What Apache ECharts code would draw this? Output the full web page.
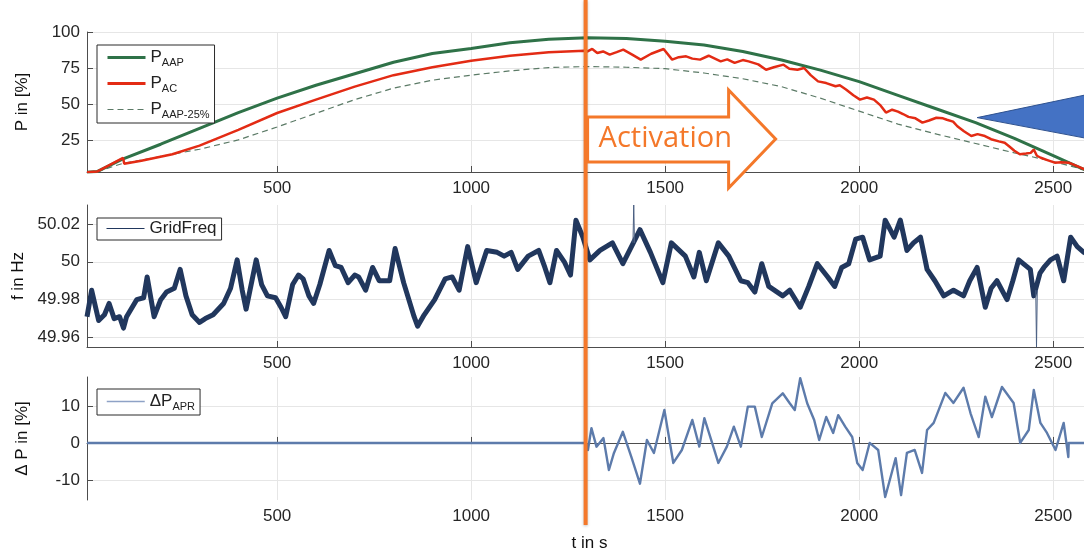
<!DOCTYPE html>
<html>
<head>
<meta charset="utf-8">
<script src="https://cdn.jsdelivr.net/npm/echarts@6/dist/echarts.min.js"></script>
<style>
html, body { margin: 0; padding: 0; background: #fff; }
#chart { width: 1084px; height: 550px; }
</style>
</head>
<body>
<div id="chart"></div>
<script>
// ---- data (t in s) ----
const powerTime = [10, 36, 100, 200, 300, 400, 500, 600, 700, 800, 900, 1000, 1100, 1200, 1300,
  1400, 1500, 1600, 1700, 1800, 1900, 2000, 2100, 2200, 2300, 2400, 2500, 2570, 2600]
const pAAP = [2.5, 3, 11.5, 22, 33, 44, 54, 63, 71, 79, 85, 88.5, 92.5, 95, 96,
  95.5, 93.5, 91, 86.5, 80.5, 73.5, 65.5, 56, 46.5, 37, 26, 14, 5.5, 2.5]
const pAAP25 = [2.5, 3, 8.5, 13.5, 18.5, 25, 34, 43.5, 53, 61, 66.5, 70, 73, 75.3, 76,
  75.5, 74.5, 71.5, 67.5, 62, 54, 45, 36, 29, 22.5, 16, 10, 5, 3]

const pACTime = [10, 36, 103, 106, 150, 230, 300, 400, 500, 600, 700, 800, 900, 1000, 1100, 1200, 1292,
  1300, 1312, 1325, 1340, 1357, 1375, 1392, 1415, 1437, 1464, 1496, 1518, 1535, 1554, 1570, 1590,
  1612, 1643, 1660, 1679, 1700, 1715, 1740, 1760, 1780, 1805, 1820, 1841, 1858, 1875, 1894, 1915,
  1939, 1950, 1966, 1985, 2002, 2020, 2038, 2055, 2069, 2085, 2100, 2113, 2127, 2145, 2163, 2180,
  2199, 2216, 2226, 2242, 2253, 2270, 2289, 2305, 2324, 2340, 2360, 2375, 2387, 2400, 2414, 2430,
  2442, 2450, 2458, 2468, 2485, 2504, 2520, 2540, 2560, 2582, 2600]
const pAC = [2.5, 3, 12.5, 8.5, 10.5, 15, 21, 32, 43.7, 53, 62, 70, 75.5, 80, 83.5, 86, 87,
  86.5, 88.2, 85.4, 86.5, 84.3, 86, 87.7, 84.3, 80.8, 84.9, 88.2, 80.8, 82.5, 83.1, 81.5, 80.8,
  83.5, 79.6, 81, 78.5, 80.5, 79.6, 77.5, 73.8, 75.5, 77.3, 74.5, 73.8, 75, 70, 65.7, 64.5,
  62.3, 63, 60, 56, 53, 54.5, 53, 49, 44, 46, 44.7, 43, 41, 40, 37, 38.5,
  40.4, 40, 39, 37.7, 34.5, 31, 27.7, 29, 27.7, 25.5, 24, 23, 20.4, 17.5, 15, 15.5,
  16, 18.3, 14, 12.6, 11, 9.2, 9.5, 9.2, 7, 4.4, 3]

const freqTime = [10, 22, 40, 55, 67, 80, 94, 104, 112, 138, 156, 165, 183, 200, 215, 235, 250, 265,
  281, 300, 315, 335, 362, 380, 397, 410, 420, 446, 460, 475, 496, 510, 522, 540, 555, 567, 582,
  594, 610, 634, 650, 665, 683, 700, 710, 728, 746, 763, 790, 804, 826, 853, 862, 879, 906, 933,
  951, 969, 991, 1013, 1040, 1067, 1085, 1103, 1120, 1147, 1174, 1190, 1203, 1220, 1240, 1256,
  1270, 1288, 1306, 1332, 1364, 1391, 1418, 1435, 1462, 1494, 1516, 1552, 1574, 1588, 1606, 1637,
  1664, 1695, 1713, 1731, 1749, 1767, 1803, 1821, 1848, 1870, 1892, 1919, 1937, 1955, 1973, 1991,
  2009, 2027, 2054, 2067, 2090, 2106, 2123, 2140, 2158, 2175, 2195, 2218, 2243, 2269, 2285, 2304,
  2325, 2340, 2355, 2381, 2396, 2411, 2441, 2450, 2466, 2476, 2493, 2510, 2527, 2545, 2562, 2579, 2600]
const freqValue = [49.971, 49.985, 49.969, 49.972, 49.978, 49.970, 49.971, 49.965, 49.971, 49.980,
  49.981, 49.992, 49.971, 49.980, 49.984, 49.986, 49.996, 49.982, 49.972, 49.968, 49.970, 49.972,
  49.978, 49.986, 50.001, 49.985, 49.975, 50.001, 49.988, 49.982, 49.981, 49.976, 49.971, 49.988,
  49.993, 49.991, 49.982, 49.978, 49.988, 50.006, 49.998, 49.997, 49.989, 49.993, 49.992, 49.985,
  49.997, 49.990, 49.990, 50.007, 49.989, 49.971, 49.966, 49.972, 49.980, 49.991, 49.992, 49.985,
  50.008, 49.989, 50.006, 50.005, 50.003, 50.005, 49.996, 50.003, 50.006, 49.997, 49.989, 50.006,
  50.000, 49.993, 50.022, 50.013, 50.001, 50.006, 50.010, 49.999, 50.010, 50.017, 50.005, 49.989,
  50.010, 50.003, 49.992, 50.005, 49.990, 50.010, 50.003, 49.990, 49.989, 49.984, 49.999, 49.987,
  49.982, 49.985, 49.976, 49.987, 49.999, 49.992, 49.987, 49.997, 49.999, 50.012, 50.013, 50.001,
  50.003, 50.022, 50.013, 50.022, 50.006, 50.010, 50.013, 49.996, 49.990, 49.982, 49.985, 49.982,
  49.990, 49.997, 49.976, 49.986, 49.990, 49.980, 49.990, 50.001, 49.996, 49.982, 49.994, 49.997,
  50.001, 50.003, 49.990, 50.013, 50.008, 50.005, 50.003]
// thin single-sample spikes (null splits them)
const freqSpikeTime = [1417, 1419, 1421, 1900, 2455, 2457, 2459]
const freqSpikeValue = [50.010, 50.030, 50.010, null, 49.985, 49.955, 49.985]

const dpTime = [10, 1296, 1301, 1310, 1323, 1341, 1355, 1368, 1391, 1413, 1435, 1453, 1471, 1498,
  1521, 1543, 1570, 1588, 1601, 1624, 1637, 1659, 1677, 1695, 1713, 1731, 1749, 1776, 1803, 1821,
  1834, 1848, 1866, 1884, 1897, 1915, 1933, 1946, 1964, 1982, 1995, 2009, 2027, 2049, 2067, 2081,
  2094, 2108, 2123, 2143, 2162, 2175, 2192, 2222, 2243, 2269, 2287, 2308, 2325, 2342, 2368, 2398,
  2415, 2437, 2450, 2467, 2484, 2506, 2527, 2539, 2540, 2600]
const dpValue = [0, 0, -1.9, 4.0, -1.0, 1.3, -7.3, -2.7, 3.0, -3.8, -11, 0.8, -2.7, 8.9,
  -5.4, -1.9, 6.2, -1.0, 6.7, -1.0, -5.4, -1.0, 4.4, -1.0, 9.8, 9.8, 1.6, 10.7, 13.4, 10.7,
  8.9, 17.5, 10.7, 6.2, 0.8, 7.0, 2.7, 7.5, 4.4, 1.6, -5.4, -7.3, 0, -1.9, -14.6, -9.2,
  -4.1, -14.1, -2.7, -1.9, -8.1, 3.5, 5.4, 13.5, 10.8, 14.9, 8.0, 1.6, 12.5, 7.0, 15.1, 10.8,
  0, 3.5, 14.3, 5.4, 2.7, -1.9, 5.4, -3.8, 0, 0]

const timeTicks = [500, 1000, 1500, 2000, 2500]
const powerTicks = [25, 50, 75, 100]
const freqTicks = [49.96, 49.98, 50, 50.02]
const dpTicks = [-10, 0, 10]
const activationTime = 1295

const legendLabels = {
  'P AAP': ['P', 'AAP'],
  'P AC': ['P', 'AC'],
  'P AAP-25%': ['P', 'AAP-25%'],
  'GridFreq': ['GridFreq', ''],
  'ΔP APR': ['ΔP', 'APR']
}

const zip = (a, b) => a.map((t, i) => [t, b[i] === null ? '-' : b[i]])

const chart = echarts.init(document.getElementById('chart'))

const font = 'Liberation Sans, Arial, sans-serif'
const gridTop = [32, 205, 377]
const gridHeight = [140, 142, 123]

function xAxis(i) {
  return {
    gridIndex: i,
    type: 'value',
    min: 10,
    max: 2600,
    name: i === 2 ? 't in s' : '',
    nameLocation: 'middle',
    nameGap: 35,
    nameTextStyle: { fontFamily: font, fontSize: 17, color: '#111' },
    axisLine: { show: true, lineStyle: { color: '#4d4d4d', width: 1 } },
    axisTick: { show: true, inside: true, length: 6, customValues: timeTicks, lineStyle: { color: '#4d4d4d' } },
    axisLabel: { customValues: timeTicks, formatter: v => String(v), margin: 8, fontFamily: font, fontSize: 17, color: '#262626' },
    splitLine: { show: true, lineStyle: { color: '#e6e6e6', width: 1 } }
  }
}

function yAxis(i, min, max, ticks, name) {
  return {
    gridIndex: i,
    type: 'value',
    min: min,
    max: max,
    name: name,
    nameLocation: 'middle',
    nameRotate: 90,
    nameGap: 56,
    nameTextStyle: { fontFamily: font, fontSize: 17, color: '#111' },
    axisLine: { show: true, lineStyle: { color: '#4d4d4d', width: 1 } },
    axisTick: { show: true, inside: true, length: 6, customValues: ticks, lineStyle: { color: '#4d4d4d' } },
    axisLabel: { customValues: ticks, formatter: v => String(v), margin: 7, fontFamily: font, fontSize: 17, color: '#262626' },
    splitLine: { show: true, lineStyle: { color: '#e6e6e6', width: 1 } }
  }
}

function legend(top, names, lineStyles, gap) {
  return {
    orient: 'vertical',
    left: 97,
    top: top,
    selectedMode: false,
    padding: [2, 5, 3, 9],
    itemGap: gap,
    itemWidth: 38,
    itemHeight: 14,
    borderColor: '#2b2b2b',
    borderWidth: 1,
    backgroundColor: '#fff',
    itemStyle: { opacity: 0, borderWidth: 0 },
    data: names.map((n, k) => ({ name: n, lineStyle: lineStyles[k] })),
    formatter: name => {
      const l = legendLabels[name]
      return l[1] ? '{p|' + l[0] + '}{s|' + l[1] + '}' : '{p|' + l[0] + '}'
    },
    textStyle: {
      rich: {
        p: { fontFamily: font, fontSize: 17, color: '#222', lineHeight: 24 },
        s: { fontFamily: font, fontSize: 11, color: '#222', padding: [10, 0, 0, 0], lineHeight: 24 }
      }
    }
  }
}

const option = {
  animation: false,
  backgroundColor: '#fff',
  grid: gridTop.map((t, i) => ({ left: 87, right: -8, top: t, height: gridHeight[i], outerBoundsMode: 'none' })),
  xAxis: [xAxis(0), xAxis(1), xAxis(2)],
  yAxis: [
    yAxis(0, 2.7, 100, powerTicks, 'P in [%]'),
    yAxis(1, 49.955, 50.03, freqTicks, 'f in Hz'),
    yAxis(2, -15.4, 17.8, dpTicks, 'Δ P in [%]')
  ],
  legend: [
    legend(45, ['P AAP', 'P AC', 'P AAP-25%'], [
      { color: '#2f7248', width: 3, opacity: 1 },
      { color: '#e32b14', width: 3, opacity: 1 },
      { color: '#5b7a66', width: 1.2, type: [6, 4], opacity: 1 }
    ], 5),
    legend(218, ['GridFreq'], [{ color: '#21375d', width: 1, opacity: 1 }], 2),
    legend(389, ['ΔP APR'], [{ color: '#8ea2c6', width: 1.5, opacity: 1 }], 2)
  ],
  series: [
    {
      name: 'P AAP', type: 'line', xAxisIndex: 0, yAxisIndex: 0, symbol: 'none',
      lineStyle: { color: '#2f7248', width: 3 }, itemStyle: { color: '#2f7248' },
      data: zip(powerTime, pAAP), z: 3
    },
    {
      name: 'P AC', type: 'line', xAxisIndex: 0, yAxisIndex: 0, symbol: 'none',
      lineStyle: { color: '#e32b14', width: 2.5 }, itemStyle: { color: '#e32b14' },
      data: zip(pACTime, pAC), z: 4
    },
    {
      name: 'P AAP-25%', type: 'line', xAxisIndex: 0, yAxisIndex: 0, symbol: 'none',
      lineStyle: { color: '#5b7a66', width: 1.2, type: [6, 4] }, itemStyle: { color: '#5b7a66' },
      data: zip(powerTime, pAAP25), z: 2
    },
    {
      name: 'GridFreq', type: 'line', xAxisIndex: 1, yAxisIndex: 1, symbol: 'none',
      lineStyle: { color: '#21375d', width: 5, join: 'round' }, itemStyle: { color: '#21375d' },
      data: zip(freqTime, freqValue)
    },
    {
      name: 'GridFreq spikes', type: 'line', xAxisIndex: 1, yAxisIndex: 1, symbol: 'none',
      connectNulls: false,
      lineStyle: { color: '#4a5f82', width: 1 },
      data: zip(freqSpikeTime, freqSpikeValue)
    },
    {
      name: 'ΔP APR', type: 'line', xAxisIndex: 2, yAxisIndex: 2, symbol: 'none',
      lineStyle: { color: '#5d7bab', width: 2.4, join: 'round' }, itemStyle: { color: '#5d7bab' },
      data: zip(dpTime, dpValue)
    }
  ]
}

chart.setOption(option)

// annotations: activation line, arrow, pointer triangle
const lineX = chart.convertToPixel({ xAxisIndex: 0 }, activationTime)
const tip = chart.convertToPixel({ xAxisIndex: 0, yAxisIndex: 0 }, [2304, 40.5])
const orange = '#f4782a'

chart.setOption({
  graphic: [
    {
      type: 'line', z: 100,
      shape: { x1: lineX, y1: 0, x2: lineX, y2: 525 },
      style: { stroke: orange, lineWidth: 4, shadowBlur: 3, shadowColor: 'rgba(0,0,0,0.25)', shadowOffsetY: 1 }
    },
    {
      type: 'polygon', z: 101,
      shape: {
        points: [
          [lineX + 2, 117], [lineX + 143, 117], [lineX + 143, 90], [lineX + 190, 139],
          [lineX + 143, 188], [lineX + 143, 162], [lineX + 2, 162]
        ]
      },
      style: { fill: '#fff', stroke: orange, lineWidth: 3 }
    },
    {
      type: 'text', z: 102,
      x: lineX + 13, y: 139,
      style: { text: 'Activation', fill: orange, font: '29px "Open Sans", sans-serif', verticalAlign: 'middle' }
    },
    {
      type: 'polygon', z: 101,
      shape: { points: [[tip[0], tip[1]], [1090, 94], [1090, 139]] },
      style: { fill: '#4472c4', stroke: '#2f528f', lineWidth: 1 }
    }
  ]
})
</script>
</body>
</html>
